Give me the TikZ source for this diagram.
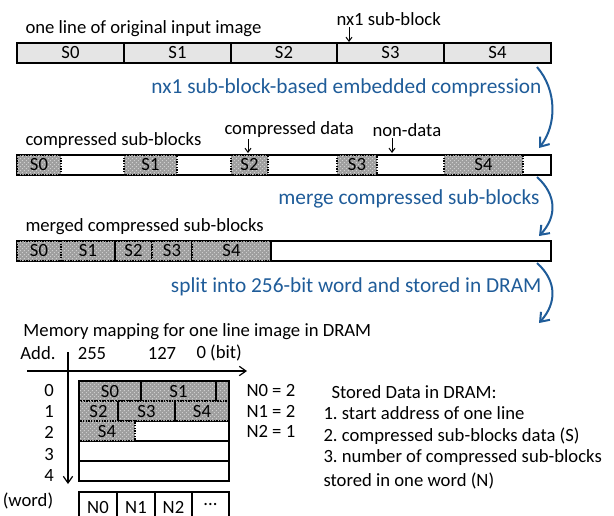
\documentclass[tikz,border=0pt]{standalone}
\usepackage{fontspec}
\setmainfont{Carlito}
\usetikzlibrary{arrows.meta,patterns}

\definecolor{arcblue}{RGB}{31,92,153}

\tikzset{every picture/.style={line width=0.75pt}}
\tikzset{
  lbl/.style={font=\fontsize{14}{16}\selectfont, inner sep=0.75pt},
  steplbl/.style={font=\fontsize{16}{18}\selectfont, text=arcblue, inner sep=0.75pt},
  plainbox/.style={draw, line width=1pt},
  rawbox/.style={draw, line width=1pt, fill=black!10},
  cmpbox/.style={preaction={fill=black!38}, pattern=north east lines, pattern color=black!15, draw, densely dotted, line width=1pt},
  pointer/.style={-{Straight Barb[length=3pt,width=4.5pt]}, line width=0.75pt},
  axisarrow/.style={-{Straight Barb[length=5pt,width=7pt]}, line width=0.9pt},
  steparrow/.style={arcblue, line width=1.5pt, -{Straight Barb[length=6pt,width=9pt]}},
}

\begin{document}
\frenchspacing
\begin{tikzpicture}[x=0.75pt,y=0.75pt,yscale=-1,xscale=1]

\path[use as bounding box, clip] (0,0) rectangle (614,515);

% original line
\draw[rawbox] (17,43) rectangle (551,63);
\foreach \x in {124,231,337,444}
  \draw[line width=1pt] (\x,43) -- (\x,63);
\foreach \i/\x in {0/70.5,1/177.5,2/284,3/390.5,4/497.5}
  \node[lbl] (raw\i) at (\x,53) {S\i};

\node[lbl, anchor=west] (origlbl) at (24,29) {one line of original input image};
\node[lbl, anchor=west] (sublbl) at (335,19) {nx1 sub-block};
\coordinate (subtip) at (349,42);
\draw[pointer] (subtip |- sublbl.south) -- (subtip);

% compressed sub-blocks
\draw[plainbox] (17,155) rectangle (551,175);
\foreach \i/\a/\b in {0/17/61,1/124/177,2/231/268,3/337/377,4/444/523}{
  \path[cmpbox] (\a,155) rectangle (\b,175);
  \node[lbl] (cmp\i) at ({(\a+\b)/2},165) {S\i};
}

\node[lbl, anchor=west] (cmplbl) at (24,141) {compressed sub-blocks};
\node[lbl, anchor=west] (datalbl) at (223,130) {compressed data};
\node[lbl, anchor=west] (nonlbl) at (371,130) {non-data};
\coordinate (datatip) at (248,153);
\coordinate (nontip) at (392,153);
\draw[pointer] (datatip |- datalbl.south) -- (datatip);
\draw[pointer] (nontip |- nonlbl.south) -- (nontip);

% merged sub-blocks
\draw[plainbox] (17,241) rectangle (551,261);
\foreach \i/\a/\b in {0/17/61,1/61/115,2/115/152,3/152/192,4/192/271}{
  \path[cmpbox] (\a,241) rectangle (\b,261);
  \node[lbl] (mrg\i) at ({(\a+\b)/2},251) {S\i};
}
\draw[line width=1pt] (115,241) -- (115,261);
\draw[line width=1pt] (271,241) -- (271,261);

\node[lbl, anchor=west] (mrglbl) at (24,227) {merged compressed sub-blocks};

% processing steps
\node[steplbl, anchor=east] (stepA) at (543,88) {nx1 sub-block-based embedded compression};
\node[steplbl, anchor=east] (stepB) at (541,199) {merge compressed sub-blocks};
\node[steplbl, anchor=east] (stepC) at (543,287) {split into 256-bit word and stored in DRAM};

\coordinate (arcAs) at (537,67);
\coordinate (arcAe) at (539,148);
\coordinate (arcBs) at (537,177);
\coordinate (arcBe) at (539,236);
\coordinate (arcCs) at (537,263);
\coordinate (arcCe) at (539,323);
\draw[steparrow] (arcAs) .. controls (557,90) and (557,125) .. (arcAe);
\draw[steparrow] (arcBs) .. controls (557,195) and (557,217) .. (arcBe);
\draw[steparrow] (arcCs) .. controls (557,281) and (557,303) .. (arcCe);

% memory mapping
\node[lbl, anchor=west] (maplbl) at (22,332) {Memory mapping for one line image in DRAM};

\node[lbl] (addlbl) at (38,353) {Add.};
\node[lbl] (b255) at (92,353) {255};
\node[lbl] (b127) at (162,353) {127};
\node[lbl, anchor=west] (b0) at (195,353) {0 (bit)};

\coordinate (hax0) at (27,371);
\coordinate (hax1) at (247,371);
\coordinate (vax0) at (68,352);
\coordinate (vax1) at (68,484);
\draw[axisarrow] (hax0) -- (hax1);
\draw[axisarrow] (vax0) -- (vax1);

\foreach \r in {0,...,4}
  \draw[plainbox] (79,{381+20*\r}) rectangle (229,{401+20*\r});

\foreach \i/\a/\b/\y in {0/79/141/381,1/141/216/381,2/79/118/401,3/118/175/401,4/175/229/401,4/79/135/421}{
  \path[cmpbox] (\a,\y) rectangle (\b,\y+20);
  \node[lbl] at ({(\a+\b)/2},\y+10) {S\i};
}
\path[cmpbox] (216,381) rectangle (229,401);
\foreach \x/\y in {141/381,216/381,118/401,175/401}
  \draw[line width=1pt] (\x,\y) -- (\x,\y+20);
\draw[line width=1pt] (79,381) rectangle (229,481);

\foreach \r/\y in {0/390,1/411,2/432,3/454,4/475}
  \node[lbl] (addr\r) at (49,\y) {\r};
\node[lbl] (wordlbl) at (28,501) {(word)};

\node[lbl, anchor=west] (n0lbl) at (245,390) {N0 = 2};
\node[lbl, anchor=west] (n1lbl) at (245,411) {N1 = 2};
\node[lbl, anchor=west] (n2lbl) at (245,431) {N2 = 1};

% word counts
\draw[plainbox] (79,492) rectangle (229,530);
\foreach \x in {117,155,192}
  \draw[line width=1pt] (\x,492) -- (\x,530);
\foreach \n/\x in {N0/98,N1/136,N2/173.5}
  \node[lbl] (cnt\n) at (\x,507) {\n};
\node[lbl] (cntmore) at (210.5,505) {...};

% stored data
\node[lbl, anchor=west] (storelbl) at (330,392) {Stored Data in DRAM:};
\node[lbl, anchor=west] (item1) at (322,413) {1. start address of one line};
\node[lbl, anchor=west] (item2) at (322,436) {2. compressed sub-blocks data (S)};
\node[lbl, anchor=west] (item3) at (322,458) {3. number of compressed sub-blocks};
\node[lbl, anchor=west] (item3b) at (322,481) {stored in one word (N)};

\end{tikzpicture}
\end{document}
